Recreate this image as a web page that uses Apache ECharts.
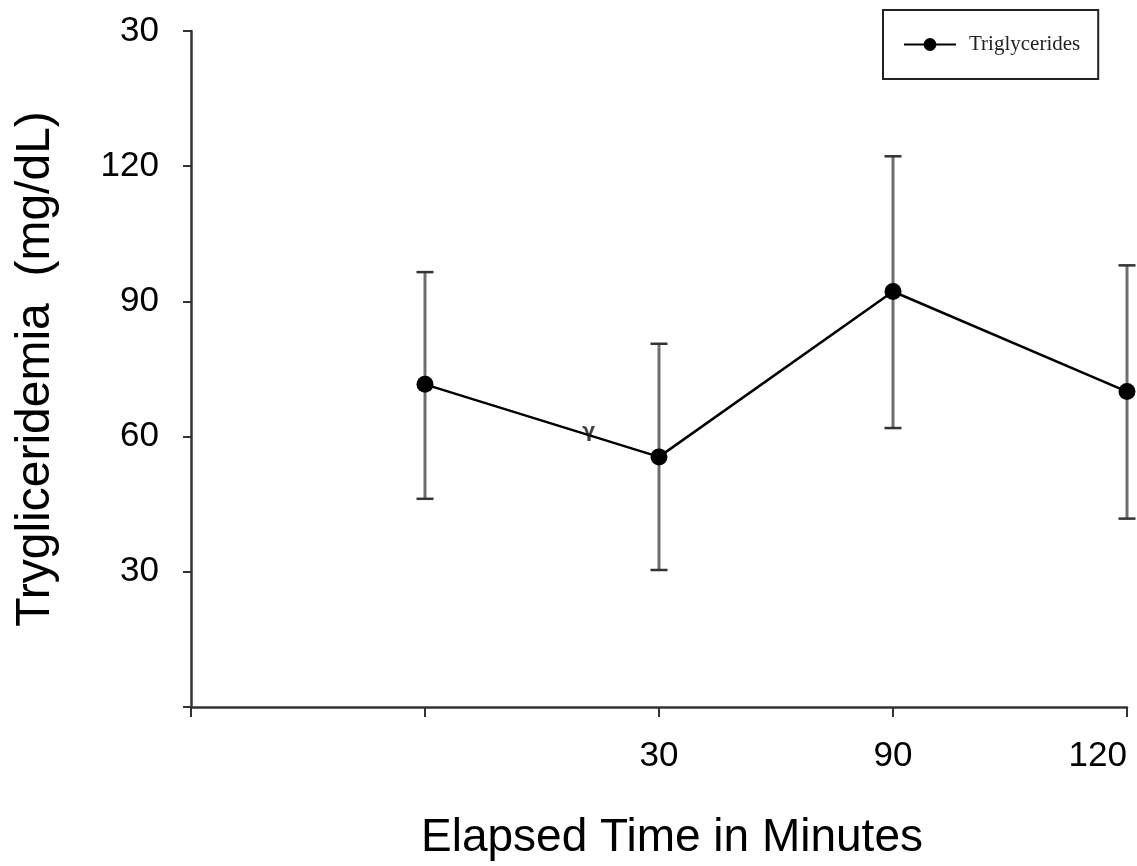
<!DOCTYPE html>
<html>
<head>
<meta charset="utf-8">
<script src="https://cdn.jsdelivr.net/npm/echarts@6/dist/echarts.min.js"></script>
<style>
  html, body { margin: 0; padding: 0; background: #fff; }
  #chart { width: 1137px; height: 866px; }
</style>
</head>
<body>
<div id="chart"></div>
<script>
// tick labels as printed on the figure
const xTickLabels = ['', '', '30', '90', '120'];
const yTickLabels = ['', '30', '60', '90', '120', '30'];

// points (x = tick index) and error bars
const xPos = [1, 2, 3, 4];
const meanValues = [71.6, 55.5, 92.2, 70.0];
const errTop = [96.5, 80.6, 122.2, 98.0];
const errBottom = [46.2, 30.4, 61.9, 41.8];

// small gamma mark on the first segment
const gammaPoint = [1.7, 61.0];

const chart = echarts.init(document.getElementById('chart'));

const lineData = xPos.map((x, i) => [x, meanValues[i]]);
const errData = xPos.map((x, i) => [x, errBottom[i], errTop[i]]);

const sans = "'Liberation Sans', Arial, sans-serif";

const option = {
  backgroundColor: '#fff',
  animation: false,
  grid: { left: 191, right: 10, top: 31, bottom: 157 },
  legend: {
    data: ['Triglycerides'],
    left: 883,
    top: 10,
    orient: 'horizontal',
    padding: [24, 18, 24, 20],
    borderColor: '#222',
    borderWidth: 2,
    itemWidth: 52,
    itemHeight: 16,
    textStyle: { fontFamily: "'Liberation Serif', 'Times New Roman', serif", fontSize: 21, color: '#222', padding: [0, 0, 0, 8] }
  },
  xAxis: {
    type: 'value',
    min: 0,
    max: 4,
    interval: 1,
    name: 'Elapsed Time in Minutes',
    nameLocation: 'middle',
    nameGap: 108,
    nameTextStyle: { fontFamily: sans, fontSize: 46, color: '#000', padding: [0, 0, 0, 26] },
    axisLine: { lineStyle: { color: '#333', width: 2.5 } },
    axisTick: { inside: false, length: 10, lineStyle: { color: '#333', width: 2 } },
    axisLabel: {
      fontFamily: sans, fontSize: 35, color: '#000', margin: 32,
      alignMaxLabel: 'right',
      formatter: v => xTickLabels[Math.round(v)] || ''
    },
    splitLine: { show: false }
  },
  yAxis: {
    type: 'value',
    min: 0,
    max: 150,
    interval: 30,
    name: 'Trygliceridemia  (mg/dL)',
    nameLocation: 'middle',
    nameGap: 131,
    nameRotate: 90,
    nameTextStyle: { fontFamily: sans, fontSize: 48, color: '#000' },
    axisLine: { show: true, lineStyle: { color: '#333', width: 2.5 } },
    axisTick: { show: true, inside: false, length: 8, lineStyle: { color: '#333', width: 2 } },
    axisLabel: {
      fontFamily: sans, fontSize: 35, color: '#000', margin: 32,
      formatter: v => yTickLabels[Math.round(v / 30)] || ''
    },
    splitLine: { show: false }
  },
  series: [
    {
      type: 'custom',
      name: 'err',
      z: 1,
      clip: false,
      encode: { x: 0, y: [1, 2] },
      data: errData,
      renderItem: function (params, api) {
        const x = api.value(0);
        const top = api.coord([x, api.value(2)]);
        const bot = api.coord([x, api.value(1)]);
        const half = 8.5;
        const st = { stroke: '#6e6e6e', lineWidth: 3 };
        const cap = { stroke: '#333', lineWidth: 2.5 };
        return {
          type: 'group',
          children: [
            { type: 'line', shape: { x1: top[0], y1: top[1], x2: bot[0], y2: bot[1] }, style: st },
            { type: 'line', shape: { x1: top[0] - half, y1: top[1], x2: top[0] + half, y2: top[1] }, style: cap },
            { type: 'line', shape: { x1: bot[0] - half, y1: bot[1], x2: bot[0] + half, y2: bot[1] }, style: cap }
          ]
        };
      }
    },
    {
      type: 'line',
      name: 'Triglycerides',
      z: 3,
      data: lineData,
      symbol: 'circle',
      symbolSize: 17,
      showAllSymbol: true,
      lineStyle: { color: '#000', width: 2.5 },
      itemStyle: { color: '#000' }
    },
    {
      type: 'scatter',
      name: 'gamma',
      z: 4,
      symbolSize: 0,
      data: [gammaPoint],
      label: {
        show: true,
        position: 'inside',
        formatter: 'γ',
        fontFamily: "'DejaVu Sans', sans-serif",
        fontWeight: 'bold',
        fontSize: 19,
        color: '#111'
      }
    }
  ]
};

chart.setOption(option);
</script>
</body>
</html>
